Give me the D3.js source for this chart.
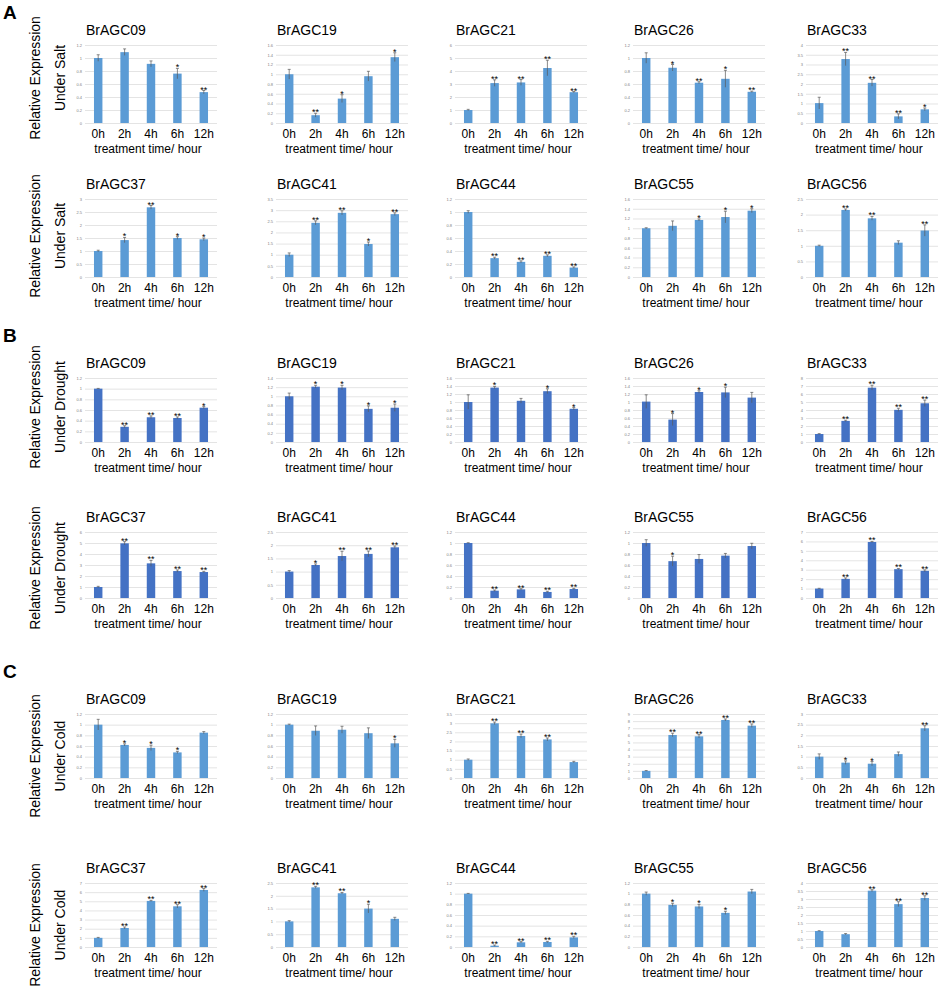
<!DOCTYPE html>
<html>
<head>
<meta charset="utf-8">
<script src="https://cdn.jsdelivr.net/npm/d3@7"></script>
<style>
  body { margin: 0; background: #fff; }
  text { font-family: "Liberation Sans", Arial, sans-serif; }
</style>
</head>
<body>
<svg id="fig" width="941" height="987"></svg>
<script>
'use strict';

// ---- data ----
var times = ['0h', '2h', '4h', '6h', '12h'];
var genes = ['BrAGC09', 'BrAGC19', 'BrAGC21', 'BrAGC26', 'BrAGC33',
             'BrAGC37', 'BrAGC41', 'BrAGC44', 'BrAGC55', 'BrAGC56'];
var panelLetters = ['A', 'B', 'C'];
var stressNames = ['Under Salt', 'Under Drought', 'Under Cold'];

var saltMean = [
  [1.0, 1.09, 0.91, 0.76, 0.475],
  [1.0, 0.16, 0.5, 0.96, 1.35],
  [1.0, 3.07, 3.12, 4.23, 2.37],
  [1.0, 0.85, 0.62, 0.68, 0.48],
  [1.02, 3.28, 2.06, 0.34, 0.7],
  [1.0, 1.42, 2.68, 1.5, 1.45],
  [1.0, 2.43, 2.88, 1.48, 2.82],
  [1.0, 0.29, 0.233, 0.326, 0.145],
  [1.0, 1.05, 1.17, 1.23, 1.36],
  [1.0, 2.15, 1.88, 1.1, 1.49]
];
var saltErr = [
  [0.05, 0.05, 0.045, 0.08, 0.025],
  [0.1, 0.04, 0.08, 0.1, 0.09],
  [0.05, 0.25, 0.22, 0.6, 0.05],
  [0.08, 0.05, 0.015, 0.13, 0.01],
  [0.3, 0.34, 0.17, 0.13, 0.07],
  [0.03, 0.1, 0.07, 0.05, 0.05],
  [0.08, 0.09, 0.09, 0.09, 0.06],
  [0.02, 0.015, 0.015, 0.015, 0.01],
  [0.01, 0.1, 0.02, 0.12, 0.04],
  [0.02, 0.03, 0.06, 0.06, 0.18]
];
var saltSig = [
  ['', '', '', '*', '**'],
  ['', '**', '*', '', '*'],
  ['', '**', '**', '**', '**'],
  ['', '*', '**', '*', '**'],
  ['', '**', '**', '**', '*'],
  ['', '*', '**', '*', '*'],
  ['', '**', '**', '*', '**'],
  ['', '**', '**', '**', '**'],
  ['', '', '*', '*', '*'],
  ['', '**', '**', '', '**']
];
var saltAxisMax = [1.2, 1.6, 6, 1.2, 4, 3, 3.5, 1.2, 1.6, 2.5];
var saltAxisStep = [0.2, 0.2, 1, 0.2, 0.5, 0.5, 0.5, 0.2, 0.2, 0.5];

var droughtMean = [
  [1.0, 0.285, 0.464, 0.45, 0.643],
  [1.0, 1.21, 1.19, 0.725, 0.75],
  [1.0, 1.36, 1.03, 1.27, 0.83],
  [1.01, 0.56, 1.25, 1.24, 1.11],
  [1.0, 2.64, 6.79, 4.02, 4.84],
  [1.0, 4.97, 3.15, 2.45, 2.36],
  [1.0, 1.25, 1.59, 1.67, 1.92],
  [1.0, 0.133, 0.157, 0.11, 0.163],
  [1.0, 0.67, 0.71, 0.77, 0.945],
  [1.0, 2.03, 5.94, 3.06, 2.88]
];
var droughtErr = [
  [0.005, 0.02, 0.025, 0.02, 0.02],
  [0.07, 0.03, 0.05, 0.065, 0.08],
  [0.18, 0.03, 0.06, 0.06, 0.03],
  [0.17, 0.15, 0.03, 0.13, 0.13],
  [0.05, 0.08, 0.3, 0.2, 0.4],
  [0.06, 0.15, 0.27, 0.1, 0.06],
  [0.04, 0.04, 0.18, 0.11, 0.05],
  [0.005, 0.012, 0.012, 0.012, 0.012],
  [0.06, 0.09, 0.08, 0.04, 0.05],
  [0.03, 0.1, 0.06, 0.07, 0.1]
];
var droughtSig = [
  ['', '**', '**', '**', '*'],
  ['', '*', '*', '*', '*'],
  ['', '*', '', '*', '*'],
  ['', '*', '*', '*', ''],
  ['', '**', '**', '**', '**'],
  ['', '**', '**', '**', '**'],
  ['', '*', '**', '**', '**'],
  ['', '**', '**', '**', '**'],
  ['', '*', '', '', ''],
  ['', '**', '**', '**', '**']
];
var droughtAxisMax = [1.2, 1.4, 1.6, 1.6, 8, 6, 2.5, 1.2, 1.2, 7];
var droughtAxisStep = [0.2, 0.2, 0.2, 0.2, 1, 1, 0.5, 0.2, 0.2, 1];

var coldMean = [
  [1.0, 0.62, 0.565, 0.48, 0.85],
  [1.0, 0.886, 0.905, 0.84, 0.65],
  [1.0, 2.99, 2.3, 2.11, 0.87],
  [1.0, 6.05, 5.86, 8.16, 7.36],
  [1.0, 0.72, 0.67, 1.12, 2.33],
  [1.0, 2.08, 5.04, 4.45, 6.24],
  [1.0, 2.33, 2.1, 1.5, 1.1],
  [1.0, 0.025, 0.088, 0.094, 0.18],
  [1.0, 0.79, 0.76, 0.64, 1.04],
  [1.0, 0.8, 3.52, 2.68, 3.06]
];
var coldErr = [
  [0.1, 0.02, 0.05, 0.02, 0.02],
  [0.01, 0.09, 0.065, 0.1, 0.075],
  [0.04, 0.07, 0.1, 0.08, 0.04],
  [0.05, 0.25, 0.24, 0.14, 0.24],
  [0.13, 0.08, 0.1, 0.1, 0.12],
  [0.05, 0.11, 0.06, 0.18, 0.15],
  [0.03, 0.04, 0.03, 0.17, 0.06],
  [0.005, 0.012, 0.012, 0.012, 0.02],
  [0.03, 0.03, 0.04, 0.03, 0.04],
  [0.02, 0.04, 0.06, 0.15, 0.14]
];
var coldSig = [
  ['', '*', '*', '*', ''],
  ['', '', '', '', '*'],
  ['', '**', '**', '**', ''],
  ['', '**', '**', '**', '**'],
  ['', '*', '*', '', '**'],
  ['', '**', '**', '**', '**'],
  ['', '**', '**', '*', ''],
  ['', '**', '**', '**', '**'],
  ['', '*', '*', '*', ''],
  ['', '', '**', '**', '**']
];
var coldAxisMax = [1.2, 1.2, 3.5, 9, 3, 7, 2.5, 1.2, 1.2, 4];
var coldAxisStep = [0.2, 0.2, 0.5, 1, 0.5, 1, 0.5, 0.2, 0.2, 0.5];

// ---- layout ----
var colLeft = [85, 276, 455, 633, 806],
    plotWidth = 132,
    rowTop = [45, 199, 378, 532, 714, 883],
    rowBase = [123, 277, 442, 598, 778, 947],
    sideLabelY = [78, 236, 407, 568, 756, 925],
    letterY = [19, 342, 678],
    barColors = ['#5b9bd5', '#4472c4', '#5b9bd5'];

var panels = [
  { mean: saltMean, err: saltErr, sig: saltSig, max: saltAxisMax, step: saltAxisStep },
  { mean: droughtMean, err: droughtErr, sig: droughtSig, max: droughtAxisMax, step: droughtAxisStep },
  { mean: coldMean, err: coldErr, sig: coldSig, max: coldAxisMax, step: coldAxisStep }
];

var svg = d3.select('#fig');
var fmt = function(d) { return String(+d.toFixed(2)); };

panels.forEach(function(panel, p) {
  svg.append('text')
    .attr('x', 3).attr('y', letterY[p])
    .style('font-size', '19px').style('font-weight', 'bold')
    .text(panelLetters[p]);

  [0, 1].forEach(function(r) {
    var row = p * 2 + r;
    var side = svg.append('g')
      .attr('transform', 'translate(0,' + sideLabelY[row] + ')');
    side.append('text')
      .attr('transform', 'translate(40,0) rotate(-90)')
      .attr('text-anchor', 'middle')
      .style('font-size', '14px')
      .text('Relative Expression');
    side.append('text')
      .attr('transform', 'translate(65,0) rotate(-90)')
      .attr('text-anchor', 'middle')
      .style('font-size', '14px')
      .text(stressNames[p]);
  });

  genes.forEach(function(gene, i) {
    var row = p * 2 + Math.floor(i / 5),
        left = colLeft[i % 5],
        top = rowTop[row],
        base = rowBase[row];

    var x = d3.scaleBand().domain(times)
      .range([left, left + plotWidth])
      .paddingInner(0.68).paddingOuter(0.34);
    var y = d3.scaleLinear().domain([0, panel.max[i]]).range([base, top]);

    var g = svg.append('g');

    // gridlines + tiny y tick labels
    var yAxis = d3.axisLeft(y)
      .tickValues(d3.range(0, panel.max[i] + panel.step[i] / 2, panel.step[i]))
      .tickSize(-plotWidth).tickPadding(3).tickFormat(fmt);
    var ya = g.append('g').attr('transform', 'translate(' + left + ',0)').call(yAxis);
    ya.select('.domain').remove();
    ya.selectAll('line').attr('stroke', '#d9d9d9').attr('stroke-width', 0.7);
    ya.selectAll('text').attr('fill', '#808080')
      .style('font-size', '4px');

    // x tick labels
    var xa = g.append('g').attr('transform', 'translate(0,' + base + ')')
      .call(d3.axisBottom(x).tickSize(0).tickPadding(6.5));
    xa.select('.domain').remove();
    xa.selectAll('text').attr('fill', '#000').style('font-size', '12px');

    g.append('text')
      .attr('x', left + plotWidth / 2 - 3).attr('y', base + 30)
      .attr('text-anchor', 'middle')
      .style('font-size', '12px')
      .text('treatment time/ hour');

    g.append('text')
      .attr('x', left + 1).attr('y', top - 10)
      .style('font-size', '14px')
      .text(gene);

    var rows = times.map(function(t, k) {
      return { t: t, v: panel.mean[i][k], e: panel.err[i][k], s: panel.sig[i][k] };
    });

    g.selectAll('rect.bar').data(rows).enter().append('rect')
      .attr('class', 'bar')
      .attr('x', function(d) { return x(d.t); })
      .attr('width', x.bandwidth())
      .attr('y', function(d) { return y(d.v); })
      .attr('height', function(d) { return base - y(d.v); })
      .attr('fill', barColors[p]);

    var cx = function(d) { return x(d.t) + x.bandwidth() / 2; };
    var eb = g.selectAll('g.err').data(rows).enter().append('g')
      .attr('class', 'err')
      .attr('stroke', '#595959').attr('stroke-width', 0.7);
    eb.append('line')
      .attr('x1', cx).attr('x2', cx)
      .attr('y1', function(d) { return y(d.v - d.e); })
      .attr('y2', function(d) { return y(d.v + d.e); });
    eb.append('line')
      .attr('x1', function(d) { return cx(d) - 1.5; })
      .attr('x2', function(d) { return cx(d) + 1.5; })
      .attr('y1', function(d) { return y(d.v + d.e); })
      .attr('y2', function(d) { return y(d.v + d.e); });

    g.selectAll('text.sig').data(rows.filter(function(d) { return d.s; }))
      .enter().append('text')
      .attr('class', 'sig')
      .attr('x', cx)
      .attr('y', function(d) { return y(d.v + d.e) + 2; })
      .attr('text-anchor', 'middle')
      .style('font-size', '9px')
      .text(function(d) { return d.s; });
  });
});
</script>
</body>
</html>
